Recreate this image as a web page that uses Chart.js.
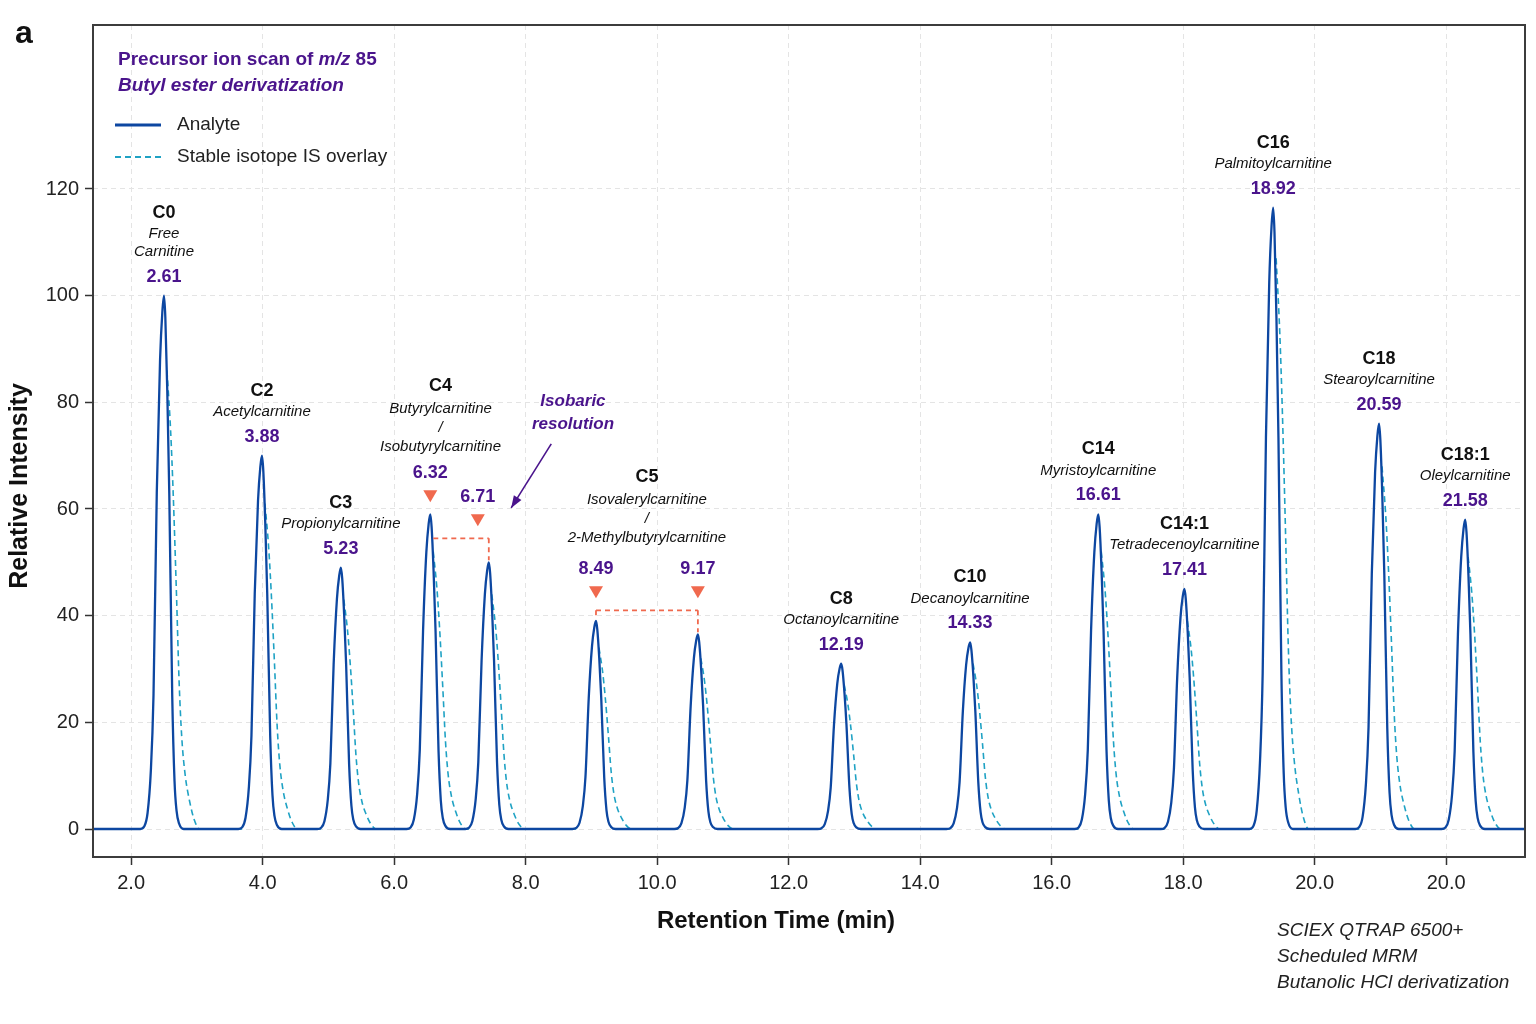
<!DOCTYPE html>
<html>
<head>
<meta charset="utf-8">
<script src="https://cdn.jsdelivr.net/npm/chart.js@4.4.0/dist/chart.umd.min.js"></script>
<style>
  html, body { margin: 0; padding: 0; background: #fff; }
  canvas { display: block; }
</style>
</head>
<body>
<canvas id="chrom" width="1536" height="1024"></canvas>
<script>
// peak table (position on the drawn axis, relative intensity)
const peakTimes = [2.50, 3.99, 5.19, 6.55, 7.44, 9.07, 10.62, 12.80, 14.76, 16.71, 18.02, 19.37, 20.98, 22.29];
const analyteHeights = [100, 70, 49, 59, 50, 39, 36.5, 31, 35, 59, 45, 116.5, 76, 58];
const isHeights = [86, 61, 43, 52, 44, 34, 32, 27, 31, 52, 39, 107, 68, 51];
const rtLabels = ['2.61', '3.88', '5.23', '6.32', '6.71', '8.49', '9.17', '12.19', '14.33', '16.61', '17.41', '18.92', '20.59', '21.58'];

// compounds; C4 and C5 each own an isobaric pair of peaks
const compoundCodes = ['C0', 'C2', 'C3', 'C4', 'C5', 'C8', 'C10', 'C14', 'C14:1', 'C16', 'C18', 'C18:1'];
const compoundNames = [
  ['Free', 'Carnitine'], ['Acetylcarnitine'], ['Propionylcarnitine'],
  ['Butyrylcarnitine', '/', 'Isobutyrylcarnitine'],
  ['Isovalerylcarnitine', '/', '2-Methylbutyrylcarnitine'],
  ['Octanoylcarnitine'], ['Decanoylcarnitine'], ['Myristoylcarnitine'],
  ['Tetradecenoylcarnitine'], ['Palmitoylcarnitine'], ['Stearoylcarnitine'], ['Oleylcarnitine']
];
const compoundPeaks = [[0], [1], [2], [3, 4], [5, 6], [7], [8], [9], [10], [11], [12], [13]];
const bracketLevels = [54.5, 41];

// peak profile read from the C0 peak: [offset in min, fraction of apex]
const analyteShape = [[-0.36, 0], [-0.30, 0.005], [-0.25, 0.03], [-0.20, 0.11], [-0.16, 0.25], [-0.11, 0.63],
  [-0.06, 0.88], [-0.025, 0.97], [0, 1], [0.02, 0.96], [0.05, 0.82], [0.08, 0.63], [0.125, 0.25],
  [0.16, 0.09], [0.19, 0.035], [0.23, 0.01], [0.30, 0]];
// IS trace leaves the analyte flank just after the apex and tails off
const isTail = [[0.045, 1], [0.10, 0.87], [0.14, 0.73], [0.19, 0.51], [0.23, 0.32], [0.27, 0.2],
  [0.32, 0.12], [0.39, 0.06], [0.46, 0.02], [0.54, 0]];

const xTickValues = [2, 4, 6, 8, 10, 12, 14, 16, 18, 20, 22];
const xTickLabels = ['2.0', '4.0', '6.0', '8.0', '10.0', '12.0', '14.0', '16.0', '18.0', '20.0', '20.0'];
const yTickValues = [0, 20, 40, 60, 80, 100, 120];

const FONT = '"Liberation Sans", Arial, sans-serif';
const PURPLE = '#4a148c';
const RED = '#f0694e';
const BLUE = '#0d47a1';
const CYAN = '#1fa2c4';

// build the two traces
const analytePts = [{ x: 1.3, y: 0 }];
const isPts = [{ x: 1.3, y: 0 }];
peakTimes.forEach((t, i) => {
  analyteShape.forEach(([dx, f]) => analytePts.push({ x: t + dx, y: f * analyteHeights[i] }));
  isPts.push({ x: t - 0.3, y: 0 });
  isPts.push({ x: t, y: null });
  isTail.forEach(([dx, f]) => isPts.push({ x: t + dx, y: f * isHeights[i] }));
});
analytePts.push({ x: 23.4, y: 0 });
isPts.push({ x: 23.4, y: 0 });

function txt(ctx, s, x, y, font, color, align) {
  ctx.font = font;
  ctx.fillStyle = color;
  ctx.textAlign = align || 'center';
  ctx.textBaseline = 'middle';
  ctx.fillText(s, x, y);
}

const annotations = {
  id: 'annotations',
  afterDraw(chart) {
    const { ctx, chartArea: a, scales: { x, y } } = chart;
    ctx.save();

    // frame
    ctx.strokeStyle = '#3c3c3c';
    ctx.lineWidth = 2;
    ctx.strokeRect(a.left, a.top, a.right - a.left, a.bottom - a.top);

    // peak labels
    let pair = 0;
    compoundCodes.forEach((code, c) => {
      const peaks = compoundPeaks[c];
      const names = compoundNames[c];
      if (peaks.length === 1) {
        const p = peaks[0];
        const px = x.getPixelForValue(peakTimes[p]);
        const top = y.getPixelForValue(analyteHeights[p]);
        const rtY = top - 19;
        txt(ctx, rtLabels[p], px, rtY, 'bold 18px ' + FONT, PURPLE);
        const lastY = rtY - 25;
        names.forEach((n, k) => txt(ctx, n, px, lastY - (names.length - 1 - k) * 18, 'italic 15px ' + FONT, '#111'));
        txt(ctx, code, px, lastY - (names.length - 1) * 18 - 21, 'bold 18px ' + FONT, '#111');
      } else {
        const bPx = y.getPixelForValue(bracketLevels[pair]);
        const pxs = peaks.map(p => x.getPixelForValue(peakTimes[p]));
        const tops = peaks.map(p => y.getPixelForValue(analyteHeights[p]));
        // bracket between the isobaric peaks
        ctx.strokeStyle = RED;
        ctx.lineWidth = 1.8;
        ctx.setLineDash([5, 4]);
        ctx.beginPath();
        ctx.moveTo(pxs[0] + (tops[0] < bPx ? 3 : 0), bPx);
        ctx.lineTo(pxs[1], bPx);
        pxs.forEach((px, k) => {
          if (tops[k] > bPx) { ctx.moveTo(px, bPx); ctx.lineTo(px, tops[k] - 2); }
        });
        ctx.stroke();
        ctx.setLineDash([]);
        let rtTop = Infinity;
        peaks.forEach((p, k) => {
          const nudge = p === 4 ? -11 : 0;
          const tx = pxs[k] + nudge;
          const triY = Math.min(tops[k], bPx) - 18;
          ctx.fillStyle = RED;
          ctx.beginPath();
          ctx.moveTo(tx - 7, triY - 6);
          ctx.lineTo(tx + 7, triY - 6);
          ctx.lineTo(tx, triY + 6);
          ctx.closePath();
          ctx.fill();
          txt(ctx, rtLabels[p], tx, triY - 23, 'bold 18px ' + FONT, PURPLE);
          rtTop = Math.min(rtTop, triY - 23);
        });
        const cx = (pxs[0] + pxs[1]) / 2 + (pair === 0 ? -19 : 0);
        const lastY = rtTop - (pair === 0 ? 27 : 32);
        names.forEach((n, k) => txt(ctx, n, cx, lastY - (names.length - 1 - k) * 19, 'italic 15px ' + FONT, '#111'));
        txt(ctx, code, cx, lastY - (names.length - 1) * 19 - 22, 'bold 18px ' + FONT, '#111');
        pair++;
      }
    });

    // isobaric resolution call-out
    txt(ctx, 'Isobaric', x.getPixelForValue(8.72), y.getPixelForValue(80.1), 'italic bold 17px ' + FONT, PURPLE);
    txt(ctx, 'resolution', x.getPixelForValue(8.72), y.getPixelForValue(75.9), 'italic bold 17px ' + FONT, PURPLE);
    const ax0 = x.getPixelForValue(8.39), ay0 = y.getPixelForValue(72.2);
    const ax1 = x.getPixelForValue(7.78), ay1 = y.getPixelForValue(60.2);
    ctx.strokeStyle = PURPLE;
    ctx.fillStyle = PURPLE;
    ctx.lineWidth = 1.6;
    ctx.beginPath();
    ctx.moveTo(ax0, ay0);
    ctx.lineTo(ax1, ay1);
    ctx.stroke();
    const ang = Math.atan2(ay1 - ay0, ax1 - ax0);
    ctx.beginPath();
    ctx.moveTo(ax1, ay1);
    ctx.lineTo(ax1 - 13 * Math.cos(ang - 0.35), ay1 - 13 * Math.sin(ang - 0.35));
    ctx.lineTo(ax1 - 13 * Math.cos(ang + 0.35), ay1 - 13 * Math.sin(ang + 0.35));
    ctx.closePath();
    ctx.fill();

    // legend block
    const part1 = 'Precursor ion scan of ';
    txt(ctx, part1, 118, 60, 'bold 19px ' + FONT, PURPLE, 'left');
    ctx.font = 'bold 19px ' + FONT;
    let w = ctx.measureText(part1).width;
    txt(ctx, 'm/z', 118 + w, 60, 'italic bold 19px ' + FONT, PURPLE, 'left');
    ctx.font = 'italic bold 19px ' + FONT;
    w += ctx.measureText('m/z').width;
    txt(ctx, ' 85', 118 + w, 60, 'bold 19px ' + FONT, PURPLE, 'left');
    txt(ctx, 'Butyl ester derivatization', 118, 86, 'italic bold 19px ' + FONT, PURPLE, 'left');

    ctx.lineWidth = 3;
    ctx.strokeStyle = BLUE;
    ctx.beginPath(); ctx.moveTo(115, 125); ctx.lineTo(161, 125); ctx.stroke();
    ctx.lineWidth = 2;
    ctx.strokeStyle = CYAN;
    ctx.setLineDash([6, 4]);
    ctx.beginPath(); ctx.moveTo(115, 157); ctx.lineTo(161, 157); ctx.stroke();
    ctx.setLineDash([]);
    txt(ctx, 'Analyte', 177, 125, '19px ' + FONT, '#222', 'left');
    txt(ctx, 'Stable isotope IS overlay', 177, 157, '19px ' + FONT, '#222', 'left');

    // panel letter, axis titles, instrument note
    txt(ctx, 'a', 24, 34, 'bold 32px ' + FONT, '#111');
    txt(ctx, 'Retention Time (min)', 776, 921, 'bold 24px ' + FONT, '#111');
    ctx.save();
    ctx.translate(20, 486);
    ctx.rotate(-Math.PI / 2);
    txt(ctx, 'Relative Intensity', 0, 0, 'bold 25px ' + FONT, '#111');
    ctx.restore();
    ['SCIEX QTRAP 6500+', 'Scheduled MRM', 'Butanolic HCl derivatization'].forEach((s, k) =>
      txt(ctx, s, 1277, 931 + k * 26, 'italic 19px ' + FONT, '#222', 'left'));

    ctx.restore();
  }
};

new Chart(document.getElementById('chrom'), {
  type: 'line',
  data: {
    datasets: [{
      label: 'Analyte',
      data: analytePts,
      borderColor: BLUE,
      borderWidth: 2.3,
      pointRadius: 0,
      cubicInterpolationMode: 'monotone',
      fill: false
    }, {
      label: 'Stable isotope IS overlay',
      data: isPts,
      borderColor: CYAN,
      borderWidth: 1.6,
      borderDash: [6, 4],
      pointRadius: 0,
      cubicInterpolationMode: 'monotone',
      spanGaps: false,
      fill: false
    }]
  },
  options: {
    responsive: false,
    animation: false,
    devicePixelRatio: 1,
    layout: { padding: { left: 0, top: 25, right: 11, bottom: 0 } },
    plugins: { legend: { display: false }, tooltip: { enabled: false } },
    scales: {
      x: {
        type: 'linear',
        min: 1.42,
        max: 23.2,
        afterBuildTicks: s => { s.ticks = xTickValues.map(v => ({ value: v })); },
        afterFit: s => { s.height = 167; },
        ticks: {
          callback: (v, i) => xTickLabels[i],
          color: '#222',
          font: { size: 20, family: FONT },
          padding: 6,
          maxRotation: 0,
          autoSkip: false
        },
        grid: { color: '#e4e4e4', lineWidth: 1, tickLength: 8, tickColor: '#333', tickWidth: 1.5 },
        border: { display: false, dash: [5, 4] }
      },
      y: {
        min: -5.25,
        max: 150.75,
        afterBuildTicks: s => { s.ticks = yTickValues.map(v => ({ value: v })); },
        afterFit: s => { s.width = 93; },
        ticks: {
          callback: v => String(v),
          color: '#222',
          font: { size: 20, family: FONT },
          padding: 6,
          autoSkip: false
        },
        grid: { color: '#e4e4e4', lineWidth: 1, tickLength: 8, tickColor: '#333', tickWidth: 1.5 },
        border: { display: false, dash: [5, 4] }
      }
    }
  },
  plugins: [annotations]
});
</script>
</body>
</html>
